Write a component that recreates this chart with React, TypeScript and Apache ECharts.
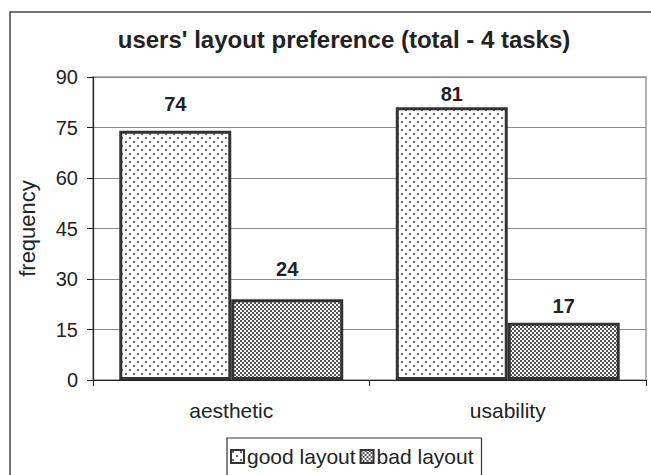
import React, { useEffect, useRef } from "react";
import * as echarts from "echarts";

const categories = ["aesthetic", "usability"];
const goodLayout = [74, 81];
const badLayout = [24, 17];
const yTicks = { min: 0, max: 90, interval: 15 };
const titleText = "users' layout preference (total - 4 tasks)";
// label gaps above each bar (styling, not data)
const goodLabelGap = [17, 3];
const badLabelGap = [20, 7];

function makeGood(): HTMLCanvasElement {
  const c = document.createElement("canvas");
  c.width = 8;
  c.height = 8;
  const g = c.getContext("2d")!;
  g.fillStyle = "#ffffff";
  g.fillRect(0, 0, 8, 8);
  g.fillStyle = "#6a6a6a";
  g.fillRect(1, 1, 2, 2);
  g.fillRect(5, 5, 2, 2);
  return c;
}

function makeBad(): HTMLCanvasElement {
  const c = document.createElement("canvas");
  c.width = 4;
  c.height = 4;
  const g = c.getContext("2d")!;
  g.fillStyle = "#ffffff";
  g.fillRect(0, 0, 4, 4);
  g.fillStyle = "#555555";
  g.fillRect(0, 0, 2, 2);
  g.fillRect(2, 2, 2, 2);
  return c;
}

export default function App() {
  const ref = useRef<HTMLDivElement>(null);
  useEffect(() => {
    if (!ref.current) return;
    const chart = echarts.init(ref.current, null, { renderer: "svg" });
    const font = "Liberation Sans, Arial, sans-serif";
    const goodPat: any = { image: makeGood(), repeat: "repeat" };
    const badPat: any = { image: makeBad(), repeat: "repeat" };
    const labelStyle = {
      show: true,
      position: "top",
      distance: 17,
      fontSize: 20,
      fontWeight: "bold",
      color: "#222",
      fontFamily: font,
    };
    const withGaps = (vals: number[], gaps: number[]) =>
      vals.map((v, i) => ({ value: v, label: { distance: gaps[i] } }));
    chart.setOption({
      animation: false,
      backgroundColor: "#ffffff",
      textStyle: { fontFamily: font },
      title: {
        text: titleText,
        left: 339,
        top: 22,
        textAlign: "center",
        textStyle: { fontSize: 24, fontWeight: "bold", color: "#222", fontFamily: font },
      },
      graphic: [
        {
          type: "rect",
          shape: { x: 10, y: 12, width: 700, height: 520 },
          style: { fill: "none", stroke: "#444", lineWidth: 1.5 },
          silent: true,
          z: -1,
        },
      ],
      legend: {
        left: 227,
        top: 438,
        orient: "horizontal",
        itemWidth: 13,
        itemHeight: 13,
        itemGap: 4,
        padding: [8, 8, 12, 3],
        borderColor: "#333",
        borderWidth: 1.2,
        borderRadius: 0,
        icon: "rect",
        textStyle: { fontSize: 21, color: "#222", fontFamily: font, padding: [0, 0, 0, -2] },
        itemStyle: { borderWidth: 2, borderColor: "#333" },
        data: ["good layout", "bad layout"],
      },
      grid: {
        left: 93,
        top: 77,
        right: 5,
        bottom: 95,
        show: true,
        borderColor: "#999",
        borderWidth: 1.5,
        backgroundColor: "#ffffff",
      },
      xAxis: {
        type: "category",
        data: categories,
        axisLine: { lineStyle: { color: "#222", width: 1.2 } },
        axisTick: { show: true, alignWithLabel: false, length: 6, lineStyle: { color: "#222" } },
        axisLabel: { fontSize: 21, color: "#222", margin: 20, fontFamily: font },
      },
      yAxis: {
        type: "value",
        min: yTicks.min,
        max: yTicks.max,
        interval: yTicks.interval,
        name: "frequency",
        nameLocation: "middle",
        nameGap: 55,
        nameRotate: 90,
        nameTextStyle: { fontSize: 22, color: "#222", fontFamily: font },
        axisLine: { show: true, lineStyle: { color: "#222", width: 1.2 } },
        axisTick: { show: true, length: 6, lineStyle: { color: "#222" } },
        axisLabel: { fontSize: 20, color: "#222", margin: 15, fontFamily: font },
        splitLine: { show: true, lineStyle: { color: "#8a8a8a", width: 1.2 } },
      },
      series: [
        {
          name: "good layout",
          type: "bar",
          data: withGaps(goodLayout, goodLabelGap),
          barCategoryGap: "19%",
          barGap: "0%",
          itemStyle: { color: goodPat, borderColor: "#333", borderWidth: 3 },
          label: labelStyle,
        },
        {
          name: "bad layout",
          type: "bar",
          data: withGaps(badLayout, badLabelGap),
          barGap: "0%",
          itemStyle: { color: badPat, borderColor: "#333", borderWidth: 3 },
          label: labelStyle,
        },
      ],
    });
    return () => chart.dispose();
  }, []);
  return (
    <div
      ref={ref}
      style={{ position: "absolute", left: 0, top: 0, width: 651, height: 475 }}
    />
  );
}
